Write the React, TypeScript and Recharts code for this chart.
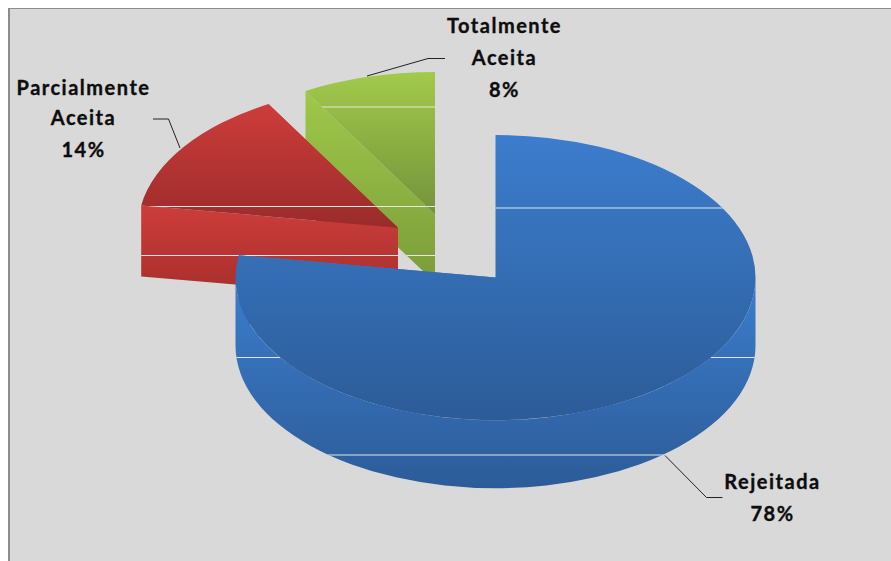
import React from 'react'
import { PieChart, Pie } from 'recharts'

const CATEGORIES = ['Totalmente Aceita', 'Parcialmente Aceita', 'Rejeitada']
const SHARES = [8.3, 14.2, 77.5]

const data = CATEGORIES.map((name, i) => ({ name, value: SHARES[i], key: i }))

// 3D look: the pie is flattened and given a thickness, slices are pulled out of the centre
const SQUASH = 0.5485
const DEPTHS = [68, 71, 68]
const EXPLODE = [
  { dx: -60.5, dy: -63 },
  { dx: -97.5, dy: -49.9 },
  { dx: 0, dy: 0 },
]

const TOP_COLORS = [
  ['#a2ca4b', '#74933a'],
  ['#cd3d3a', '#9a2b2b'],
  ['#3c7dcd', '#2c5c98'],
]
const WALL_COLORS = [
  ['#a0c84a', '#7a9c39'],
  ['#cd3d3a', '#a42e2c'],
  ['#3c7dcd', '#2c5c98'],
]

// white bands left over in the source image
const TOP_BANDS = [[107, 206.5], [206.5], [208]]
const WALL_BANDS = [[206.5, 255.5], [255.5], [357.5, 455]]

const LABELS = [
  {
    x: 504.5,
    lines: ['Totalmente', 'Aceita', '8%'],
    ys: [33, 65, 97],
    leader: '445,58.5 428,58.5 367,76',
  },
  {
    x: 83.5,
    lines: ['Parcialmente', 'Aceita', '14%'],
    ys: [95, 125, 157],
    leader: '153,119 168.5,119 180,148',
  },
  {
    x: 772.5,
    lines: ['Rejeitada', '78%'],
    ys: [489, 521],
    leader: '665,455.5 706.5,497.5 722.5,497.5',
  },
]

const RADIAN = Math.PI / 180

function SliceShape(props: any) {
  const { cx, cy, outerRadius: r, startAngle, endAngle, index } = props
  const { dx, dy } = EXPLODE[index]
  const depth = DEPTHS[index]
  const x0 = cx + dx
  const y0 = cy + dy
  const ry = r * SQUASH
  const from = Math.min(startAngle, endAngle)
  const to = Math.max(startAngle, endAngle)
  const px = (a: number) => x0 + r * Math.cos(a * RADIAN)
  const py = (a: number) => y0 - ry * Math.sin(a * RADIAN)

  const large = to - from > 180 ? 1 : 0
  const top = `M${x0},${y0} L${px(from)},${py(from)} A${r},${ry} 0 ${large} 0 ${px(to)},${py(to)} Z`

  // cut faces stay under the top surface when they look away from the viewer
  const face = (a: number) =>
    `M${px(a)},${py(a)} L${x0},${y0} L${x0},${y0 + depth} L${px(a)},${py(a) + depth} Z`

  const lo = Math.max(from, 180)
  const hi = Math.min(to, 360)
  const rim =
    hi > lo
      ? `M${px(lo)},${py(lo)} A${r},${ry} 0 0 0 ${px(hi)},${py(hi)} ` +
        `L${px(hi)},${py(hi) + depth} A${r},${ry} 0 0 1 ${px(lo)},${py(lo) + depth} Z`
      : null

  const wallPaths = [face(from), face(to), rim].filter(Boolean) as string[]

  return (
    <g>
      {wallPaths.map((d, i) => (
        <g key={i}>
          <clipPath id={`wall-clip-${index}-${i}`}>
            <path d={d} />
          </clipPath>
          <path d={d} fill={`url(#wall-${index})`} />
          {WALL_BANDS[index].map((y) => (
            <line
              key={y}
              x1={0}
              x2={891}
              y1={y}
              y2={y}
              stroke="#e6e6e6"
              strokeWidth={1}
              clipPath={`url(#wall-clip-${index}-${i})`}
            />
          ))}
        </g>
      ))}
      <clipPath id={`top-clip-${index}`}>
        <path d={top} />
      </clipPath>
      <path d={top} fill={`url(#top-${index})`} />
      {TOP_BANDS[index].map((y) => (
        <line
          key={y}
          x1={0}
          x2={891}
          y1={y}
          y2={y}
          stroke="#e6e6e6"
          strokeWidth={1}
          clipPath={`url(#top-clip-${index})`}
        />
      ))}
    </g>
  )
}

function renderLabel({ index }: any) {
  const label = LABELS[index]
  return (
    <g key={index}>
      <polyline points={label.leader} fill="none" stroke="#222222" strokeWidth={1} />
      {label.lines.map((line, i) => (
        <text
          key={line}
          x={label.x}
          y={label.ys[i]}
          textAnchor="middle"
          fontFamily="Lato, sans-serif"
          fontWeight="700"
          fontSize={20}
          letterSpacing={1.5}
          stroke="#0d0d0d"
          strokeWidth={0.35}
          fill="#0d0d0d"
        >
          {line}
        </text>
      ))}
    </g>
  )
}

export default function App() {
  return (
    <div style={{ position: 'absolute', left: 0, top: 0, width: 891, height: 561, background: '#ffffff', overflow: 'hidden' }}>
      <div
        style={{
          position: 'absolute',
          left: 8,
          top: 8,
          width: 883,
          height: 553,
          background: '#d9d9d9',
          borderLeft: '2px solid #8c8c8c',
          borderTop: '1px solid #8c8c8c',
        }}
      />
      <div style={{ position: 'absolute', left: 0, top: 0 }}>
        <PieChart width={891} height={561} margin={{ top: 0, right: 0, bottom: 0, left: 0 }}>
          <defs>
            {TOP_COLORS.map((c, i) => (
              <linearGradient key={i} id={`top-${i}`} x1="0" y1="0" x2="0" y2="1">
                <stop offset="0%" stopColor={c[0]} />
                <stop offset="100%" stopColor={c[1]} />
              </linearGradient>
            ))}
            {WALL_COLORS.map((c, i) => (
              <linearGradient key={i} id={`wall-${i}`} x1="0" y1="0" x2="0" y2="1">
                <stop offset="0%" stopColor={c[0]} />
                <stop offset="100%" stopColor={c[1]} />
              </linearGradient>
            ))}
          </defs>
          <Pie
            data={data}
            dataKey="value"
            nameKey="name"
            cx={495.5}
            cy={277.6}
            innerRadius={0}
            outerRadius={260}
            startAngle={90}
            endAngle={450}
            stroke="none"
            isAnimationActive={false}
            shape={SliceShape}
            labelLine={false}
            label={renderLabel}
          />
        </PieChart>
      </div>
    </div>
  )
}
